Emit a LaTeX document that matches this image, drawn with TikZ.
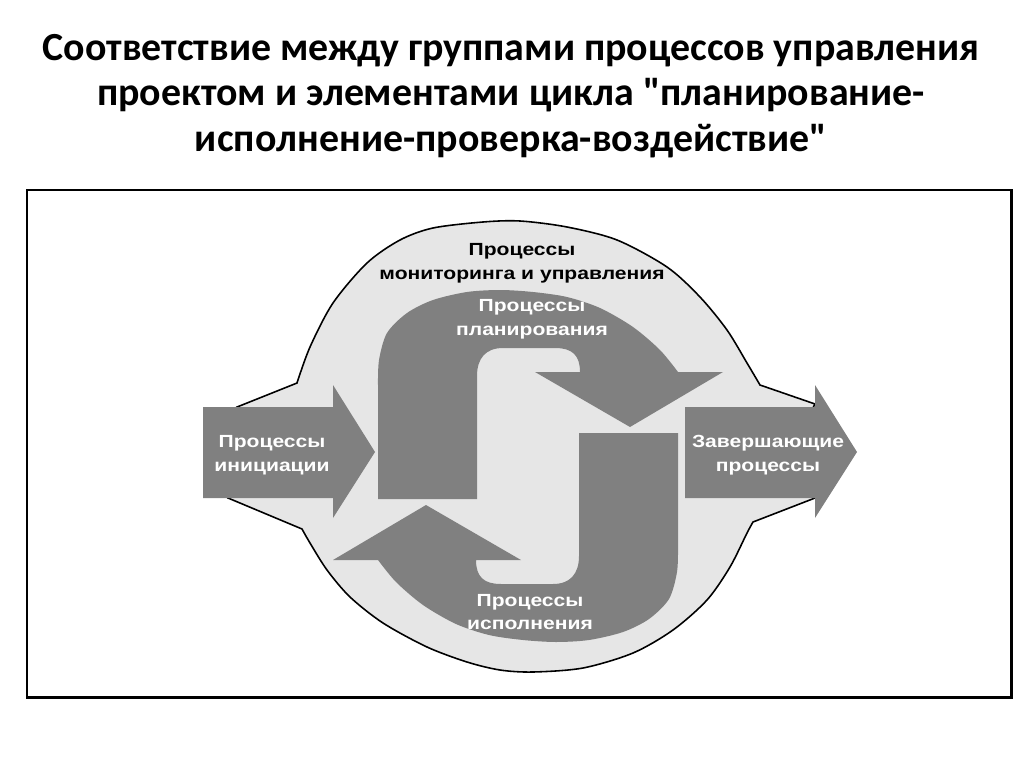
\documentclass[tikz,border=0pt]{standalone}
\usepackage{fontspec}
\setmainfont{Carlito}[Ligatures=TeXOff]
\newfontfamily\lblfont[FakeStretch=1.2]{Liberation Sans}

\definecolor{bandgray}{HTML}{808080}
\definecolor{blobgray}{HTML}{E6E6E6}

\tikzset{
    band/.style={fill=bandgray},
    lbl/.style={font=\lblfont\bfseries\fontsize{10}{13.5}\selectfont, align=center, text=white},
}

\begin{document}
\begin{tikzpicture}[x=0.02cm, y=-0.02cm]
    \useasboundingbox (0,0) rectangle (1024,767);

    \node[font=\bfseries\fontsize{22.7}{26}\selectfont, align=center] (title) at (511,96)
        {Соответствие между группами процессов управления\\проектом и элементами цикла "планирование-\\исполнение-проверка-воздействие"};

    \draw[line width=1.7pt] (27,190) rectangle (1011,697);

    % monitoring area
    \filldraw[fill=blobgray, line width=0.9pt] (237,407)
        -- plot[smooth] coordinates {(297,383) (310,347) (333,303) (367,263) (400,240) (433,228) (483,222) (520,221) (567,227) (617,240) (667,267) (700,297) (727,330) (747,363) (760,385)}
        -- (815,404) -- (790,452) -- (815,498) -- (753,522)
        -- plot[smooth] coordinates {(753,522) (747,533) (730,567) (707,600) (673,630) (633,653) (583,668) (533,672) (500,670) (467,662) (427,647) (383,623) (350,597) (327,570) (310,543) (302,529)}
        -- (228,498) -- (260,452) -- cycle;

    % planning / execution bands
    \foreach \r in {0, 180}{
        \fill[band, rotate around={\r:(528,466)}] (378,499)
            -- plot[smooth] coordinates {(378,385) (379,360) (387,333) (407,313) (433,300) (467,292) (500,290) (533,292) (567,297) (600,308) (633,327) (660,350) (678,372)}
            -- (723,372) -- (630,427) -- (535,372) -- (580,372)
            .. controls (580,355) and (572,348) .. (555,348) -- (503,348)
            .. controls (486,348) and (477,358) .. (477,376) -- (477,499) -- cycle;
    }

    % initiating / closing arrows
    \foreach \s in {0, 482}{
        \fill[band] (203+\s,407) -- (333+\s,407) -- (333+\s,385) -- (375+\s,452)
            -- (333+\s,518) -- (333+\s,498) -- (203+\s,498) -- cycle;
    }

    \node[lbl, text=black] (monitor) at (522,263) {Процессы\\мониторинга и управления};
    \node[lbl] (plan) at (532,319) {Процессы\\планирования};
    \node[lbl] (exec) at (530,612) {Процессы\\исполнения};
    \node[lbl] (init) at (272,455) {Процессы\\инициации};
    \node[lbl] (close) at (768,455) {Завершающие\\процессы};
\end{tikzpicture}
\end{document}
